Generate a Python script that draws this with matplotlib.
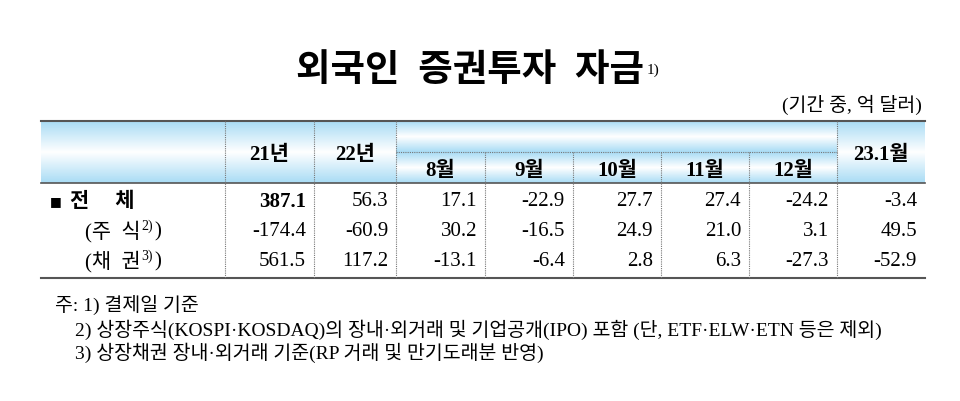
import matplotlib
matplotlib.use("Agg")
import matplotlib.pyplot as plt
import numpy as np
from matplotlib.colors import LinearSegmentedColormap

title = "외국인  증권투자  자금"
unit = "(기간 중, 억 달러)"
years = ["21년", "22년"]
months = ["8월", "9월", "10월", "11월", "12월"]
last_col = "23.1월"
row_labels = ["전　 체", "(주  식", "(채  권"]
row_sup = ["", "2)", "3)"]
total = [387.1, 56.3, 17.1, -22.9, 27.7, 27.4, -24.2, -3.4]
stocks = [-174.4, -60.9, 30.2, -16.5, 24.9, 21.0, 3.1, 49.5]
bonds = [561.5, 117.2, -13.1, -6.4, 2.8, 6.3, -27.3, -52.9]
notes = ["주: 1) 결제일 기준",
         "2) 상장주식(KOSPI·KOSDAQ)의 장내·외거래 및 기업공개(IPO) 포함 (단, ETF·ELW·ETN 등은 제외)",
         "3) 상장채권 장내·외거래 기준(RP 거래 및 만기도래분 반영)"]

FAM = ["Liberation Serif", "Noto Sans CJK KR"]
fig = plt.figure(figsize=(9.6, 4.02), dpi=100)
ax = fig.add_axes([0, 0, 1, 1])
ax.set_xlim(0, 960); ax.set_ylim(402, 0); ax.axis("off")
rend = fig.canvas.get_renderer()

cmap = LinearSegmentedColormap.from_list("g", ["#a9dcf5", "#ffffff", "#a9dcf5"])
grad = np.linspace(0, 1, 100).reshape(-1, 1)
def gbox(x0, x1, y0, y1):
    ax.imshow(grad, cmap=cmap, extent=(x0, x1, y1, y0), aspect="auto", zorder=0)

def right_edge(t):
    bb = t.get_window_extent(renderer=rend)
    return bb.x1  # pixel == data x here

xs = [41, 225, 314, 396, 485, 573, 661, 749, 837, 925]
top, mid, hb, bot = 122, 153, 184, 279
gbox(41, 396, top, hb)
gbox(396, 837, top, mid)
gbox(396, 837, mid, hb)
gbox(837, 925, top, hb)
ax.set_xlim(0, 960); ax.set_ylim(402, 0)

ax.plot([41, 925], [top, top], color="#555555", lw=1.5)
ax.plot([41, 925], [hb, hb], color="#555555", lw=1.2)
ax.plot([41, 925], [bot, bot], color="#555555", lw=1.5)
ax.plot([396, 837], [mid, mid], color="#777777", lw=0.8, ls=(0, (1, 1)))
for i, x in enumerate(xs[1:-1], start=1):
    y0 = mid if 4 <= i <= 7 else top
    ax.plot([x, x], [y0, bot], color="#777777", lw=0.8, ls=(0, (1, 1)))

tt = ax.text(470, 72, title, family=FAM, fontsize=27, fontweight="bold", ha="center", va="center")
ax.text(right_edge(tt) + 3, 70, "1)", family=FAM, fontsize=11, ha="left", va="center")
ax.text(922, 105, unit, family=FAM, fontsize=14, ha="right", va="center")

hdr_fs = 15
for j, lab in enumerate(years):
    ax.text((xs[1 + j] + xs[2 + j]) / 2, 155, lab, family=FAM, fontsize=hdr_fs, fontweight="bold", ha="center", va="center")
for j, lab in enumerate(months):
    ax.text((xs[3 + j] + xs[4 + j]) / 2, 171, lab, family=FAM, fontsize=hdr_fs, fontweight="bold", ha="center", va="center")
ax.text((xs[8] + xs[9]) / 2, 155, last_col, family=FAM, fontsize=hdr_fs, fontweight="bold", ha="center", va="center")

rows = [total, stocks, bonds]
ys = [202, 232, 262]
for r, (vals, y) in enumerate(zip(rows, ys)):
    if r == 0:
        ax.text(50, y, "■", family=["DejaVu Sans"], fontsize=9, ha="left", va="center")
        ax.text(70, y, row_labels[0], family=FAM, fontsize=15, fontweight="bold", ha="left", va="center")
    else:
        t = ax.text(85, y, row_labels[r], family=FAM, fontsize=15, ha="left", va="center")
        x1 = right_edge(t)
        s = ax.text(x1 + 1, y - 6, row_sup[r], family=FAM, fontsize=10, ha="left", va="center")
        ax.text(right_edge(s) + 1, y, ")", family=FAM, fontsize=15, ha="left", va="center")
    for c, v in enumerate(vals):
        ax.text(xs[c + 2] - 8, y, f"{v:.1f}", family=FAM, fontsize=15,
                fontweight="bold" if (r == 0 and c == 0) else "normal", ha="right", va="center")

ax.text(55, 305, notes[0], family=FAM, fontsize=14, ha="left", va="center")
ax.text(75, 330, notes[1], family=FAM, fontsize=14, ha="left", va="center")
ax.text(75, 353, notes[2], family=FAM, fontsize=14, ha="left", va="center")

fig.savefig("out.png", dpi=100)
